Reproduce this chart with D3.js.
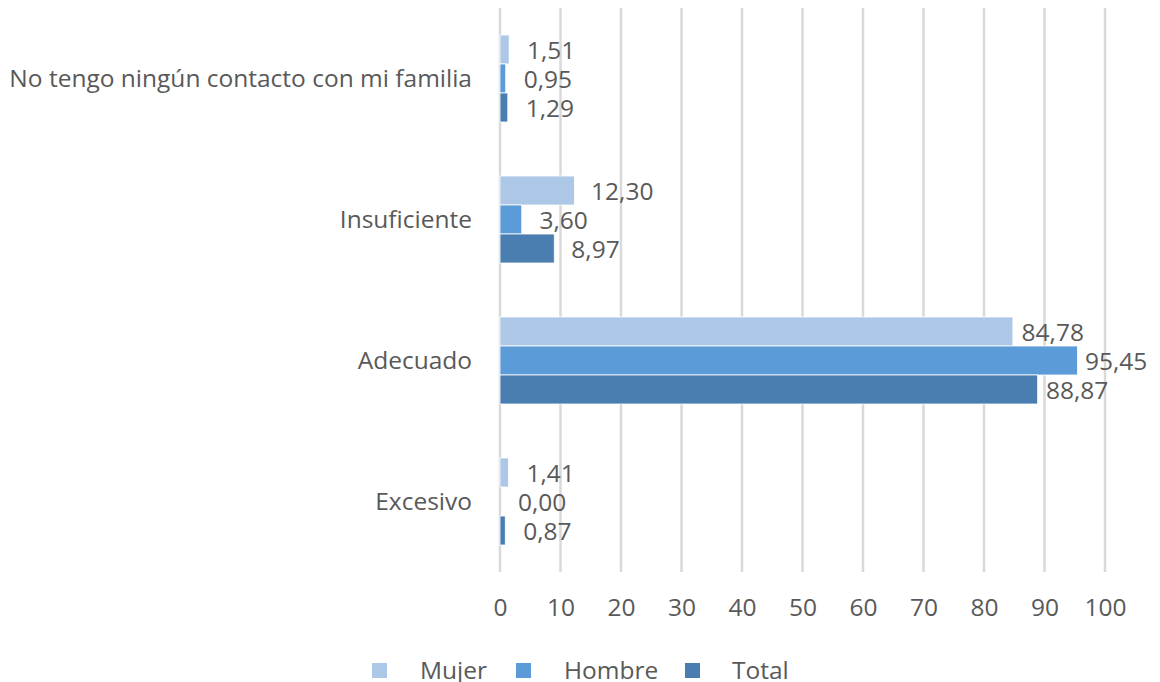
<!DOCTYPE html>
<html><head><meta charset="utf-8">
<script src="https://cdn.jsdelivr.net/npm/d3@7"></script>
<style>body{margin:0;background:#fff}svg{display:block}text{font-family:"Open Sans",sans-serif;fill:#595959}</style>
</head><body><svg id="c" width="1160" height="682"></svg>
<script>
const categories = ["No tengo ningún contacto con mi familia","Insuficiente","Adecuado","Excesivo"];
const series = ["Mujer","Hombre","Total"];
const mujer = [1.51, 12.30, 84.78, 1.41];
const hombre = [0.95, 3.60, 95.45, 0.00];
const total = [1.29, 8.97, 88.87, 0.87];
const ticks = [0,10,20,30,40,50,60,70,80,90,100];
const colors = ["#adc7e6","#5b9bd7","#4a7eb1"];
const values = [mujer, hombre, total];

const svg = d3.select("#c");
const x = d3.scaleLinear().domain([0,100]).range([500,1105]);
const y = d3.scaleBand().domain(categories).range([8,572]).paddingInner(0.383).paddingOuter(0.1915);
const ys = d3.scaleBand().domain(series).range([0,y.bandwidth()]);
const fmt = v => d3.format(".2f")(v).replace(".", ",");
const FS = 24.5;

// gridlines
svg.append("g").selectAll("line").data(ticks).join("line")
  .attr("x1",d=>x(d)).attr("x2",d=>x(d)).attr("y1",8).attr("y2",572)
  .attr("stroke","#d9d9d9").attr("stroke-width",2.5);

// x tick labels
const xa = svg.append("g").attr("transform","translate(0,572)")
  .call(d3.axisBottom(x).tickValues(ticks).tickSize(0).tickPadding(27));
xa.select(".domain").remove();
xa.selectAll("text").attr("font-size",FS).style("font-family","'Open Sans',sans-serif").attr("fill","#595959");

// category labels
svg.append("g").selectAll("text").data(categories).join("text")
  .attr("x",472).attr("y",d=>y(d)+y.bandwidth()/2).attr("dy","0.35em")
  .attr("text-anchor","end").attr("font-size",FS).text(d=>d);

// bars
series.forEach((s,i)=>{
  const g = svg.append("g");
  g.selectAll("rect").data(categories).join("rect")
    .attr("x",x(0)).attr("y",d=>y(d)+ys(s))
    .attr("width",(d,j)=>x(values[i][j])-x(0)).attr("height",ys.bandwidth())
    .attr("fill",colors[i]).attr("stroke","#fff").attr("stroke-width",0.8);
  g.selectAll("text").data(categories).join("text")
    .attr("x",(d,j)=>x(values[i][j])+18-0.11*values[i][j]).attr("y",d=>y(d)+ys(s)+ys.bandwidth()/2+1).attr("dy","0.35em")
    .attr("font-size",FS).attr("fill","#404040").text((d,j)=>fmt(values[i][j]));
});

// legend
const lx = [372, 516, 685];
const tx = [420, 564, 732];
series.forEach((s,i)=>{
  svg.append("rect").attr("x",lx[i]).attr("y",663).attr("width",15).attr("height",15).attr("fill",colors[i]);
  svg.append("text").attr("x",tx[i]).attr("y",679).attr("font-size",FS).text(s);
});
</script></body></html>
